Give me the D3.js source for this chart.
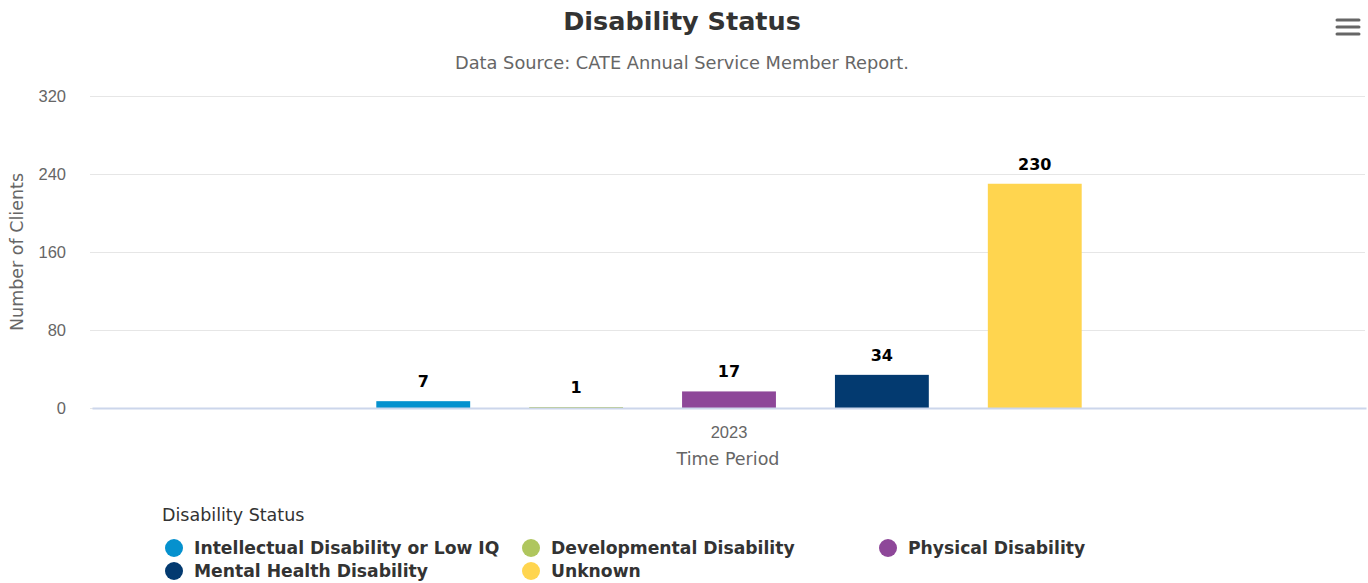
<!DOCTYPE html>
<html>
<head>
<meta charset="utf-8">
<script src="https://cdn.jsdelivr.net/npm/d3@7"></script>
<style>
  body { margin: 0; background: #fff; }
  svg { font-family: "DejaVu Sans", "Noto Sans", sans-serif; }
</style>
</head>
<body>
<div id="chart"></div>
<script>
// data
const categories = ['2023'];
const seriesNames = ['Intellectual Disability or Low IQ', 'Developmental Disability', 'Physical Disability', 'Mental Health Disability', 'Unknown'];
const seriesValues = [7, 1, 17, 34, 230];
const seriesColors = ['#0591ce', '#afc65e', '#8e4799', '#033a70', '#ffd54f'];
const yTicks = [0, 80, 160, 240, 320];

const w = 1368, h = 583;
const margin = {left: 90, right: 3, top: 96, bottom: 175};

const svg = d3.select('#chart').append('svg').attr('width', w).attr('height', h);

// title + subtitle
svg.append('text').attr('x', 682).attr('y', 30).attr('text-anchor', 'middle')
  .style('font-size', '25.5px').style('font-weight', 700).style('fill', '#333')
  .text('Disability Status');
svg.append('text').attr('x', 682).attr('y', 69).attr('text-anchor', 'middle')
  .style('font-size', '17.8px').style('fill', '#666')
  .text('Data Source: CATE Annual Service Member Report.');

// menu icon
[20, 27, 34].forEach(function(yy){
  svg.append('line').attr('x1', 1337).attr('x2', 1359).attr('y1', yy).attr('y2', yy)
    .attr('stroke', '#666').attr('stroke-width', 3).attr('stroke-linecap', 'round');
});

const y = d3.scaleLinear().domain([0, 320]).range([h - margin.bottom, margin.top]);
const x0 = d3.scaleBand().domain(categories).range([margin.left + 2, w - margin.right + 1]);
// series bars sit in the middle 60% of the category band
const x1 = d3.scaleBand().domain(seriesNames)
  .range([x0.bandwidth() * 0.2, x0.bandwidth() * 0.8])
  .paddingInner(0.386).paddingOuter(0.193);

// gridlines
const grid = svg.append('g').attr('transform', `translate(${margin.left},0)`)
  .call(d3.axisLeft(y).tickValues(yTicks).tickSize(-(w - margin.left - margin.right)).tickFormat(''));
grid.select('.domain').remove();
grid.selectAll('line').attr('stroke', '#e6e6e6');

// y tick labels
const yAxis = svg.append('g').attr('transform', `translate(${margin.left - 24},0)`)
  .call(d3.axisLeft(y).tickValues(yTicks).tickSize(0));
yAxis.select('.domain').remove();
yAxis.selectAll('text').style('font-size', '16.5px').style('fill', '#666').attr('dy', '0.35em').attr('x', 0);

svg.append('text').attr('transform', `translate(23,${(y(0) + y(320)) / 2}) rotate(-90)`)
  .attr('text-anchor', 'middle').style('font-size', '17.5px').style('fill', '#666')
  .text('Number of Clients');

// bars
const groups = svg.selectAll('.cat').data(categories).enter().append('g')
  .attr('class', 'cat').attr('transform', d => `translate(${x0(d)},0)`);

const bars = groups.selectAll('.node')
  .data(seriesNames.map((s, i) => ({name: s, value: seriesValues[i], color: seriesColors[i]})))
  .enter().append('g').attr('class', 'node');

bars.append('rect')
  .attr('x', d => x1(d.name))
  .attr('y', d => y(d.value))
  .attr('width', x1.bandwidth())
  .attr('height', d => y(0) - y(d.value))
  .attr('fill', d => d.color);

bars.append('text')
  .attr('x', d => x1(d.name) + x1.bandwidth() / 2)
  .attr('y', d => y(d.value) - 14)
  .attr('text-anchor', 'middle')
  .style('font-size', '16px').style('font-weight', 700).style('fill', '#000')
  .style('stroke', '#fff').style('stroke-width', 3).style('paint-order', 'stroke')
  .text(d => d.value);

// x axis
const xAxis = svg.append('g').attr('transform', `translate(0,${y(0)})`)
  .call(d3.axisBottom(x0).tickSize(0));
xAxis.select('.domain').attr('stroke', '#ccd6eb').attr('stroke-width', 2);
xAxis.selectAll('text').style('font-size', '16.5px').style('fill', '#666').attr('y', 18);

svg.append('text').attr('x', 728).attr('y', 465)
  .attr('text-anchor', 'middle').style('font-size', '17.5px').style('fill', '#666')
  .text('Time Period');

// legend
svg.append('text').attr('x', 162).attr('y', 521).style('font-size', '17.5px').style('fill', '#333')
  .text('Disability Status');

const leg = svg.selectAll('.leg').data(seriesNames).enter().append('g').attr('class', 'leg')
  .attr('transform', (d, i) => `translate(${174 + (i % 3) * 357},${548 + Math.floor(i / 3) * 23})`);
leg.append('circle').attr('r', 9).attr('fill', (d, i) => seriesColors[i]);
leg.append('text').attr('x', 20).attr('dy', '0.35em')
  .style('font-size', '17.2px').style('font-weight', 700).style('fill', '#333')
  .text(d => d);
</script>
</body>
</html>
